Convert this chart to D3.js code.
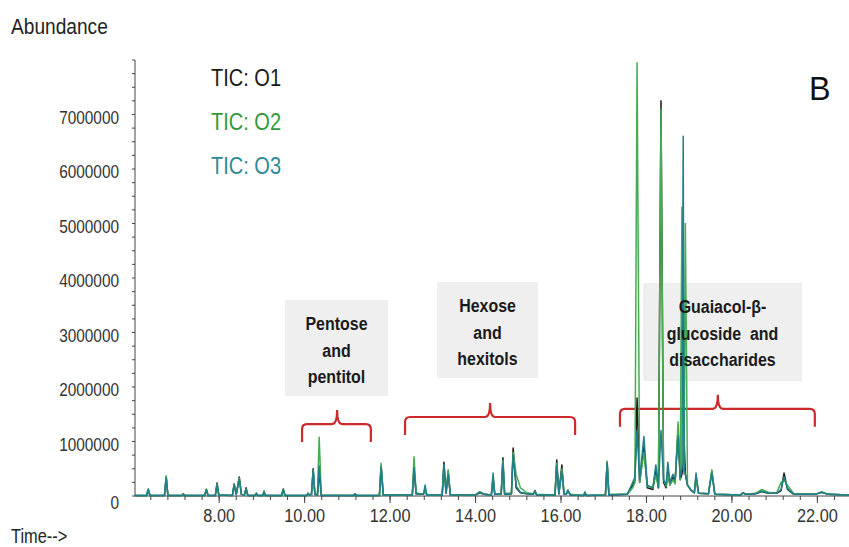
<!DOCTYPE html>
<html>
<head>
<meta charset="utf-8">
<script src="https://cdn.jsdelivr.net/npm/d3@7"></script>
<style>
body { margin: 0; background: #fff; }
text { font-family: "Liberation Sans", Arial, sans-serif; }
</style>
</head>
<body>
<script>
var width = 849, height = 547;

// retention time (min), shared by the three traces
var times = [6.03,
  6.30, 6.34, 6.38,
  6.72, 6.76, 6.80,
  7.13, 7.16, 7.19,
  7.66, 7.70, 7.74,
  7.91, 7.95, 7.99,
  8.31, 8.35, 8.40, 8.47, 8.52, 8.59, 8.63, 8.67,
  8.84, 8.87, 8.90,
  9.02, 9.05, 9.08,
  9.46, 9.50, 9.54,
  10.05, 10.08, 10.11, 10.16, 10.20, 10.24, 10.30, 10.34, 10.39,
  11.15, 11.18, 11.21,
  11.75, 11.79, 11.84,
  12.52, 12.56, 12.61, 12.78, 12.82, 12.86,
  13.22, 13.26, 13.31, 13.36, 13.41,
  14.00, 14.10, 14.20,
  14.37, 14.41, 14.45, 14.60, 14.64, 14.68,
  14.84, 14.88, 14.95, 15.05, 15.20, 15.35, 15.39, 15.43,
  15.86, 15.90, 15.95, 16.02, 16.07, 16.12, 16.16, 16.22,
  16.53, 16.56, 16.59,
  17.04, 17.08, 17.12,
  17.55, 17.68, 17.73, 17.78, 17.84, 17.94, 18.02, 18.15, 18.22, 18.28,
  18.34, 18.40, 18.46, 18.50, 18.55, 18.62, 18.67, 18.74, 18.79, 18.83,
  18.86, 18.88, 18.91, 18.96, 19.05, 19.12, 19.16, 19.22, 19.45, 19.53, 19.60,
  20.20, 20.26, 20.32, 20.55, 20.70, 20.85, 20.96, 21.05, 21.15, 21.22, 21.30, 21.45,
  21.95, 22.10, 22.25, 22.74];

// abundance, millions
var o1 = [0.01,
  0.01, 0.12, 0.01,
  0.01, 0.35, 0.01,
  0.01, 0.04, 0.01,
  0.01, 0.12, 0.01,
  0.01, 0.24, 0.02,
  0.01, 0.22, 0.03, 0.35, 0.03, 0.02, 0.15, 0.01,
  0.01, 0.05, 0.01,
  0.01, 0.09, 0.01,
  0.01, 0.13, 0.01,
  0.01, 0.05, 0.02, 0.03, 0.50, 0.03, 0.02, 0.45, 0.01,
  0.01, 0.04, 0.01,
  0.01, 0.55, 0.02,
  0.02, 0.50, 0.04, 0.03, 0.12, 0.02,
  0.02, 0.62, 0.05, 0.45, 0.02,
  0.02, 0.06, 0.03,
  0.02, 0.30, 0.03, 0.03, 0.70, 0.03,
  0.04, 0.88, 0.15, 0.06, 0.04, 0.03, 0.10, 0.02,
  0.02, 0.66, 0.04, 0.57, 0.04, 0.03, 0.10, 0.02,
  0.01, 0.07, 0.01,
  0.02, 0.62, 0.02,
  0.03, 0.20, 0.30, 1.80, 0.25, 0.90, 0.15, 0.12, 0.50, 0.15,
  7.25, 0.25, 0.15, 0.45, 0.20, 0.35, 0.25, 1.20, 0.30, 0.40,
  0.60, 1.06, 0.40, 0.20, 0.10, 0.06, 0.35, 0.05, 0.04, 0.45, 0.03,
  0.02, 0.06, 0.03, 0.04, 0.08, 0.05, 0.06, 0.05, 0.10, 0.42, 0.12, 0.03,
  0.03, 0.07, 0.03, 0.02];

var o2 = [0.01,
  0.01, 0.10, 0.01,
  0.01, 0.37, 0.01,
  0.01, 0.03, 0.01,
  0.01, 0.13, 0.01,
  0.01, 0.22, 0.02,
  0.01, 0.20, 0.03, 0.33, 0.03, 0.02, 0.13, 0.01,
  0.01, 0.05, 0.01,
  0.01, 0.08, 0.01,
  0.01, 0.12, 0.01,
  0.01, 0.04, 0.02, 0.03, 0.45, 0.04, 0.02, 1.08, 0.02,
  0.01, 0.04, 0.01,
  0.01, 0.60, 0.02,
  0.02, 0.72, 0.06, 0.03, 0.10, 0.02,
  0.02, 0.55, 0.05, 0.48, 0.02,
  0.02, 0.08, 0.03,
  0.02, 0.35, 0.04, 0.04, 0.65, 0.05,
  0.05, 0.80, 0.40, 0.15, 0.06, 0.04, 0.09, 0.03,
  0.02, 0.60, 0.04, 0.50, 0.04, 0.04, 0.08, 0.03,
  0.01, 0.07, 0.01,
  0.02, 0.64, 0.03,
  0.03, 0.15, 0.25, 7.95, 0.25, 0.80, 0.18, 0.15, 0.38, 0.15,
  7.10, 0.30, 0.18, 0.40, 0.20, 0.30, 0.22, 1.36, 0.30, 5.30,
  0.60, 0.40, 5.00, 0.20, 0.10, 0.06, 0.30, 0.05, 0.04, 0.48, 0.03,
  0.02, 0.05, 0.03, 0.05, 0.12, 0.07, 0.05, 0.06, 0.25, 0.30, 0.20, 0.04,
  0.03, 0.08, 0.03, 0.02];

var o3 = [0.01,
  0.01, 0.13, 0.01,
  0.01, 0.33, 0.01,
  0.01, 0.03, 0.01,
  0.01, 0.11, 0.01,
  0.01, 0.20, 0.02,
  0.01, 0.21, 0.03, 0.30, 0.03, 0.02, 0.12, 0.01,
  0.01, 0.05, 0.01,
  0.01, 0.07, 0.01,
  0.01, 0.11, 0.01,
  0.01, 0.05, 0.02, 0.03, 0.48, 0.03, 0.02, 0.55, 0.01,
  0.01, 0.04, 0.01,
  0.01, 0.52, 0.02,
  0.02, 0.52, 0.04, 0.03, 0.20, 0.02,
  0.02, 0.58, 0.05, 0.40, 0.02,
  0.02, 0.07, 0.03,
  0.02, 0.42, 0.03, 0.03, 0.60, 0.03,
  0.04, 0.75, 0.18, 0.07, 0.04, 0.03, 0.08, 0.02,
  0.02, 0.55, 0.04, 0.45, 0.04, 0.03, 0.11, 0.02,
  0.01, 0.07, 0.01,
  0.02, 0.60, 0.02,
  0.03, 0.25, 0.35, 1.20, 0.30, 1.09, 0.20, 0.15, 0.57, 0.15,
  1.20, 0.30, 0.20, 0.62, 0.25, 0.40, 0.30, 1.10, 0.35, 0.50,
  6.60, 0.50, 0.40, 0.20, 0.10, 0.06, 0.42, 0.05, 0.04, 0.42, 0.03,
  0.02, 0.06, 0.03, 0.04, 0.09, 0.05, 0.05, 0.05, 0.12, 0.35, 0.14, 0.03,
  0.03, 0.07, 0.03, 0.02];

var seriesNames = ["TIC: O1", "TIC: O2", "TIC: O3"];
var yTicks = [0, 1000000, 2000000, 3000000, 4000000, 5000000, 6000000, 7000000];
var xTicks = [8, 10, 12, 14, 16, 18, 20, 22];

// compound groups: label lines, bracket start / middle / end (min), bracket level (abundance)
var groupLabels = [["Pentose", "and", "pentitol"], ["Hexose", "and", "hexitols"], ["Guaiacol-\u03b2-", "glucoside  and", "disaccharides"]];
var groupStart = [9.94, 12.35, 17.38];
var groupMid = [10.76, 14.34, 19.67];
var groupEnd = [11.55, 16.33, 21.94];
var groupLevel = [1320000, 1450000, 1600000];

var colors = ["#1c1c1c", "#45ad4f", "#1f7f8c"];
var legendColors = ["#1a1a1a", "#2f9a3a", "#2b8a98"];

var x = d3.scaleLinear().domain([6.03, 22.74]).range([135, 849]);
var y = d3.scaleLinear().domain([0, 8000000]).range([496, 60]);

var svg = d3.select("body").append("svg")
    .attr("width", width)
    .attr("height", height);

// the source figure is stretched vertically, so text is drawn condensed
function squeeze(sel, sx, fx, fy) {
    sel.attr("transform", function(d, i){ return "translate(" + fx(d, i) + "," + fy(d, i) + ") scale(" + sx + ",1)" });
}

// annotation boxes (behind the traces)
var boxes = [{x: 285, y: 300, w: 103, h: 96}, {x: 437, y: 282, w: 101, h: 96}, {x: 643, y: 283, w: 159, h: 98}];
svg.selectAll(".box")
   .data(boxes)
   .enter()
   .append("rect")
   .attr("x", function(d){ return d.x })
   .attr("y", function(d){ return d.y })
   .attr("width", function(d){ return d.w })
   .attr("height", function(d){ return d.h })
   .style("fill", "#efefef");

// red braces
function brace(i) {
    var x0 = x(groupStart[i]), xm = x(groupMid[i]), x1 = x(groupEnd[i]), yh = y(groupLevel[i]);
    var drop = 18, rise = 14, r = 5;
    return "M" + x0 + "," + (yh + drop) + "L" + x0 + "," + (yh + r) + "Q" + x0 + "," + yh + " " + (x0 + r) + "," + yh +
           "L" + (xm - r) + "," + yh + "Q" + xm + "," + yh + " " + xm + "," + (yh - rise) +
           "Q" + xm + "," + yh + " " + (xm + r) + "," + yh +
           "L" + (x1 - r) + "," + yh + "Q" + x1 + "," + yh + " " + x1 + "," + (yh + r) + "L" + x1 + "," + (yh + drop);
}
svg.selectAll(".brace")
   .data(groupStart)
   .enter()
   .append("path")
   .attr("d", function(d, i){ return brace(i) })
   .style("fill", "none")
   .style("stroke", "#cc2b2b")
   .style("stroke-width", 2.2);

// x axis: baseline with major and minor ticks
var minorX = d3.range(6.4, 22.7, 0.4);
svg.append("line")
   .attr("x1", 135).attr("x2", width)
   .attr("y1", y(0)).attr("y2", y(0))
   .style("stroke", "#444").style("stroke-width", 1);
svg.selectAll(".xminor")
   .data(minorX)
   .enter()
   .append("line")
   .attr("x1", function(d){ return x(d) }).attr("x2", function(d){ return x(d) })
   .attr("y1", y(0)).attr("y2", y(0) + 4)
   .style("stroke", "#444");
svg.selectAll(".xmajor")
   .data(xTicks)
   .enter()
   .append("line")
   .attr("x1", function(d){ return x(d) }).attr("x2", function(d){ return x(d) })
   .attr("y1", y(0)).attr("y2", y(0) + 7)
   .style("stroke", "#444");
svg.selectAll(".xlabel")
   .data(xTicks)
   .enter()
   .append("text")
   .attr("text-anchor", "middle")
   .style("font-size", "19px")
   .style("fill", "#333")
   .text(function(d){ return d3.format(".2f")(d) })
   .call(squeeze, 0.86, function(d){ return x(d) }, function(){ return 522 });

// y axis
var minorY = d3.range(0, 8000001, 250000);
svg.append("line")
   .attr("x1", 135).attr("x2", 135)
   .attr("y1", y(0)).attr("y2", 60)
   .style("stroke", "#444");
svg.selectAll(".yminor")
   .data(minorY)
   .enter()
   .append("line")
   .attr("x1", 132).attr("x2", 135)
   .attr("y1", function(d){ return y(d) }).attr("y2", function(d){ return y(d) })
   .style("stroke", "#444");
svg.selectAll(".ylabel")
   .data(yTicks)
   .enter()
   .append("text")
   .attr("text-anchor", "end")
   .style("font-size", "19px")
   .style("fill", "#333")
   .text(function(d){ return d3.format("d")(d) })
   .call(squeeze, 0.81, function(){ return 119 }, function(d){ return y(d) + (d === 0 ? 13 : 9) });

// traces
var line = d3.line()
    .x(function(d){ return x(d[0]) })
    .y(function(d){ return y(d[1] * 1000000) });
[o1, o2, o3].forEach(function(vals, k) {
    svg.append("path")
       .datum(times.map(function(t, i){ return [t, vals[i]] }))
       .attr("d", line)
       .style("fill", "none")
       .style("stroke", colors[k])
       .style("stroke-width", 1.5)
       .style("stroke-linejoin", "round");
});

// group labels
groupLabels.forEach(function(lines, i) {
    var b = boxes[i];
    svg.selectAll(".g" + i)
       .data(lines)
       .enter()
       .append("text")
       .attr("text-anchor", "middle")
       .style("font-size", "19px")
       .style("font-weight", "bold")
       .style("fill", "#1a1a1a")
       .style("white-space", "pre")
       .text(function(d){ return d })
       .call(squeeze, 0.84, function(){ return b.x + b.w / 2 }, function(d, j){ return b.y + 30 + j * 26.5 });
});

// legend
svg.selectAll(".legend")
   .data(seriesNames)
   .enter()
   .append("text")
   .style("font-size", "23px")
   .style("fill", function(d, i){ return legendColors[i] })
   .text(function(d){ return d })
   .call(squeeze, 0.87, function(){ return 211 }, function(d, i){ return 86 + i * 44 });

svg.append("text")
   .style("font-size", "34px")
   .style("fill", "#111")
   .text("B")
   .attr("transform", "translate(809,100) scale(0.95,1)");

svg.append("text")
   .style("font-size", "22px")
   .style("fill", "#222")
   .text("Abundance")
   .attr("transform", "translate(11,34) scale(0.87,1)");

svg.append("text")
   .style("font-size", "20px")
   .style("fill", "#222")
   .text("Time-->")
   .attr("transform", "translate(11,543) scale(0.82,1)");
</script>
</body>
</html>
